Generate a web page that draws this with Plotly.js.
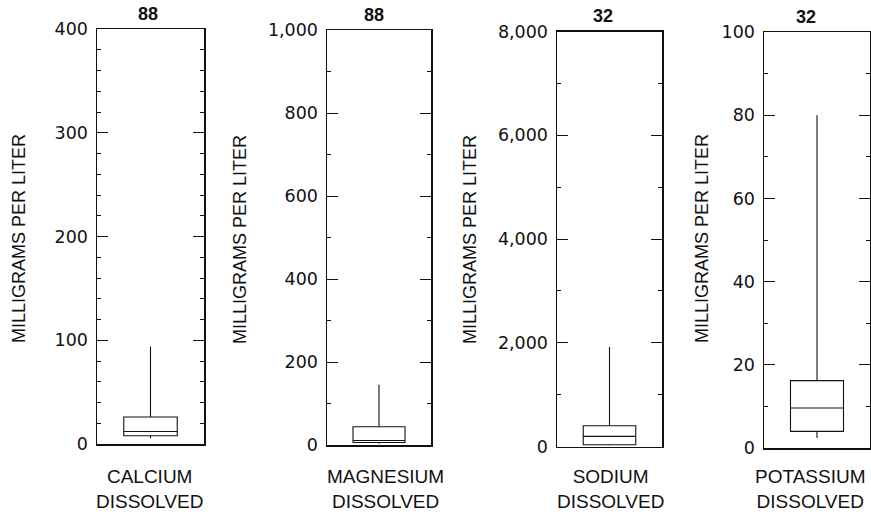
<!DOCTYPE html>
<html>
<head>
<meta charset="utf-8">
<script src="https://cdn.plot.ly/plotly-3.0.1.min.js"></script>
<style>html,body{margin:0;padding:0;background:#fff}</style>
</head>
<body>
<div id="chart" style="width:871px;height:518px"></div>
<script>
// Dissolved major cations: summary statistics (milligrams per liter)
const constituents = ['CALCIUM<br>DISSOLVED', 'MAGNESIUM<br>DISSOLVED', 'SODIUM<br>DISSOLVED', 'POTASSIUM<br>DISSOLVED'];
const sampleCounts = [88, 88, 32, 32];
const lowerWhisker = [5.5, 3, 20, 2.4];
const quartile1 = [8, 6, 35, 4];
const medians = [12, 11, 195, 9.6];
const quartile3 = [26, 44, 400, 16.2];
const upperWhisker = [94, 145, 1920, 80];
const axisMax = [400, 1000, 8000, 100];
const majorStep = [100, 200, 2000, 20];
const minorStep = [20, 100, 1000, 10];
const yAxisLabel = 'MILLIGRAMS PER LITER';

// Panel frames in pixels: [left, right, top, bottom]
const W = 871, H = 518;
const frames = [
  [97, 204, 29, 444],
  [327, 431, 30, 445],
  [557, 662, 31.5, 446.5],
  [764, 870, 32, 448]
];
const titleX = [148, 374, 603, 806];
const yLabelX = [19, 240, 470, 702];
const nameX = [149, 385, 610, 810];

const px = x => x / W;
const py = y => 1 - y / H;

const ink = '#111';
const tickFont = {family: 'DejaVu Sans, Liberation Sans, sans-serif', size: 17.5, color: ink};
const yLabelFont = {family: 'Liberation Sans, Arial, sans-serif', size: 18, color: ink};
const nameFont = {family: 'Liberation Sans, Arial, sans-serif', size: 19, color: ink};

const data = [];
const layout = {
  width: W, height: H,
  margin: {l: 0, r: 0, t: 0, b: 0},
  paper_bgcolor: '#fff', plot_bgcolor: '#fff',
  showlegend: false,
  annotations: []
};

constituents.forEach((name, i) => {
  const n = i + 1;
  const xa = 'xaxis' + (n === 1 ? '' : n);
  const ya = 'yaxis' + (n === 1 ? '' : n);
  const xr = 'x' + (n === 1 ? '' : n);
  const yr = 'y' + (n === 1 ? '' : n);
  const [l, r, t, b] = frames[i];

  data.push({
    type: 'box',
    x: [0],
    q1: [quartile1[i]],
    median: [medians[i]],
    q3: [quartile3[i]],
    lowerfence: [lowerWhisker[i]],
    upperfence: [upperWhisker[i]],
    width: 1,
    whiskerwidth: 0,
    boxpoints: false,
    line: {color: ink, width: 1.1},
    fillcolor: 'rgba(0,0,0,0)',
    hoverinfo: 'skip',
    xaxis: xr, yaxis: yr
  });

  layout[xa] = {
    domain: [px(l), px(r)],
    anchor: yr,
    range: [-1, 1],
    showticklabels: false,
    ticks: '',
    showline: true, mirror: true,
    linecolor: ink, linewidth: 1.5,
    showgrid: false, zeroline: false,
    fixedrange: true
  };
  layout[ya] = {
    domain: [py(b), py(t)],
    anchor: xr,
    range: [0, axisMax[i]],
    tick0: 0, dtick: majorStep[i],
    tickformat: ',',
    ticks: 'inside', ticklen: 11, tickwidth: 1, tickcolor: ink,
    minor: {dtick: minorStep[i], tick0: 0, ticks: 'inside', ticklen: 4, tickwidth: 1, tickcolor: ink, showgrid: false},
    showline: true, mirror: 'ticks',
    linecolor: ink, linewidth: 1.5,
    showgrid: false, zeroline: false,
    tickfont: tickFont,
    ticklabelstandoff: 4,
    fixedrange: true
  };

  // sample count above each panel
  layout.annotations.push({
    xref: 'paper', yref: 'paper',
    x: px(titleX[i]), y: py(t - 15),
    text: '<b>' + sampleCounts[i] + '</b>',
    showarrow: false, xanchor: 'center', yanchor: 'middle',
    font: {family: 'Liberation Sans, Arial, sans-serif', size: 18, color: ink}
  });
  // vertical axis label
  layout.annotations.push({
    xref: 'paper', yref: 'paper',
    x: px(yLabelX[i]), y: py(239),
    text: yAxisLabel, textangle: -90,
    showarrow: false, xanchor: 'center', yanchor: 'middle',
    font: yLabelFont
  });
  // constituent name below each panel
  layout.annotations.push({
    xref: 'paper', yref: 'paper',
    x: px(nameX[i]), y: py(489),
    text: name,
    showarrow: false, xanchor: 'center', yanchor: 'middle',
    align: 'center',
    font: nameFont
  });
});

Plotly.newPlot('chart', data, layout, {staticPlot: true, displayModeBar: false});
</script>
</body>
</html>
